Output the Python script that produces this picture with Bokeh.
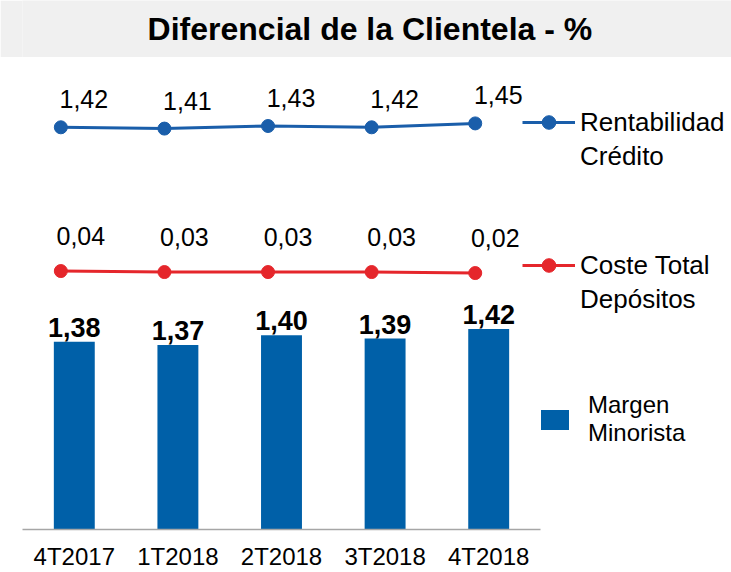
from bokeh.plotting import figure
from bokeh.models import (ColumnDataSource, Range1d, Legend, LegendItem, Label, FixedTicker)
from bokeh.transform import dodge
from bokeh.layouts import column
from bokeh.embed import file_html
from bokeh.resources import INLINE
from bokeh.core.properties import value

# ---- data ----
quarters = ["4T2017", "1T2018", "2T2018", "3T2018", "4T2018"]
margen_minorista = [1.38, 1.37, 1.40, 1.39, 1.42]
rentabilidad_credito = [1.42, 1.41, 1.43, 1.42, 1.45]
coste_depositos = [0.04, 0.03, 0.03, 0.03, 0.02]
title_text = "Diferencial de la Clientela - %"

BLUE_BAR = "#0060A8"
BLUE_LINE = "#1A5EAA"
RED = "#E5262B"
FONT = "Liberation Sans"


def fmt(v):
    return f"{v:.2f}".replace(".", ",")


idx = list(range(len(quarters)))
src = ColumnDataSource(dict(
    x=idx,
    margen=margen_minorista,
    rent=rentabilidad_credito,
    coste=coste_depositos,
    margen_lbl=[fmt(v) for v in margen_minorista],
    rent_lbl=[fmt(v) for v in rentabilidad_credito],
    coste_lbl=[fmt(v) for v in coste_depositos],
))

W = 731

# ---- title band ----
t = figure(width=W, height=57, output_backend="svg", toolbar_location=None,
           x_range=Range1d(0, 1), y_range=Range1d(0, 1),
           min_border=0, x_axis_location=None, y_axis_location=None)
t.background_fill_color = "#F0F0F0"
t.border_fill_color = "#F0F0F0"
t.outline_line_color = None
t.grid.visible = False
t.add_layout(Label(x=0.49, y=0.5, text=title_text, text_align="center",
                   text_baseline="middle", text_font=FONT,
                   text_font_style="bold", text_font_size="32px",
                   text_color="#000000"))

# ---- main chart ----
p = figure(width=W, height=515, output_backend="svg", toolbar_location=None,
           x_range=Range1d(-0.5, -0.5 + 709 / 103.6), y_range=Range1d(0.792, 2.270),
           min_border_left=22, min_border_right=0, min_border_top=0,
           min_border_bottom=42, y_axis_location=None)
p.extra_y_ranges = {"rent": Range1d(-1.68, 1.958), "coste": Range1d(-2.55, 2.18)}
p.outline_line_color = None
p.grid.visible = False
p.background_fill_color = "white"
p.border_fill_color = "white"

bars = p.vbar(x="x", top="margen", bottom=0, width=0.395, source=src,
              fill_color=BLUE_BAR, line_color=None)
p.text(x="x", y="margen", text="margen_lbl", source=src, text_align="center",
       text_baseline="bottom", y_offset=-5, text_font=value(FONT),
       text_font_style="bold", text_font_size="27px", text_color="#000000")

xs_line = dodge("x", -0.13)

rl = p.line(x=xs_line, y="rent", source=src, y_range_name="rent",
            line_color=BLUE_LINE, line_width=3)
rs = p.scatter(x=xs_line, y="rent", source=src, y_range_name="rent", size=13,
               fill_color=BLUE_LINE, line_color=BLUE_LINE)
p.text(x=xs_line, y="rent", text="rent_lbl", source=src, y_range_name="rent",
       text_align="center", text_baseline="middle", x_offset=23, y_offset=-28,
       text_font=value(FONT), text_font_size="25px", text_color="#000000")

cl = p.line(x=xs_line, y="coste", source=src, y_range_name="coste",
            line_color=RED, line_width=3)
cs = p.scatter(x=xs_line, y="coste", source=src, y_range_name="coste", size=13,
               fill_color=RED, line_color=RED)
p.text(x=xs_line, y="coste", text="coste_lbl", source=src, y_range_name="coste",
       text_align="center", text_baseline="middle", x_offset=20, y_offset=-35,
       text_font=value(FONT), text_font_size="25px", text_color="#000000")

# an empty, invisible renderer so a legend's second text line carries no symbol
blank = p.line(x=[], y=[], line_alpha=0)

ax = p.xaxis[0]
ax.ticker = FixedTicker(ticks=idx)
ax.major_label_overrides = {i: q for i, q in zip(idx, quarters)}
ax.bounds = (-0.5, len(quarters) - 0.5)
ax.axis_line_color = "#A6A6A6"
ax.axis_line_width = 1.5
ax.major_tick_line_color = None
ax.minor_tick_line_color = None
ax.major_tick_out = 0
ax.major_tick_in = 0
ax.major_label_standoff = 13
ax.major_label_text_font = FONT
ax.major_label_text_font_size = "24px"
ax.major_label_text_color = "#000000"


def make_legend(items, loc, gw, gh, standoff, fs):
    lg = Legend(items=items, location=loc, orientation="vertical",
                glyph_width=gw, glyph_height=gh, label_standoff=standoff,
                label_text_font=FONT, label_text_font_size=fs,
                label_text_color="#000000", border_line_color=None,
                background_fill_alpha=0, padding=0, margin=0, spacing=0)
    p.add_layout(lg, "center")
    return lg


make_legend([LegendItem(label="Rentabilidad", renderers=[rl, rs]),
             LegendItem(label="Crédito", renderers=[blank])],
            (500, 356), 53, 34, 5, "26px")
make_legend([LegendItem(label="Coste Total", renderers=[cl, cs]),
             LegendItem(label="Depósitos", renderers=[blank])],
            (500, 213), 53, 34, 5, "26px")
make_legend([LegendItem(label="Margen\nMinorista", renderers=[bars])],
            (515, 82), 35, 25, 16, "24px")

layout = column(t, p, spacing=0)
open("out.html", "w").write(file_html(layout, INLINE))
